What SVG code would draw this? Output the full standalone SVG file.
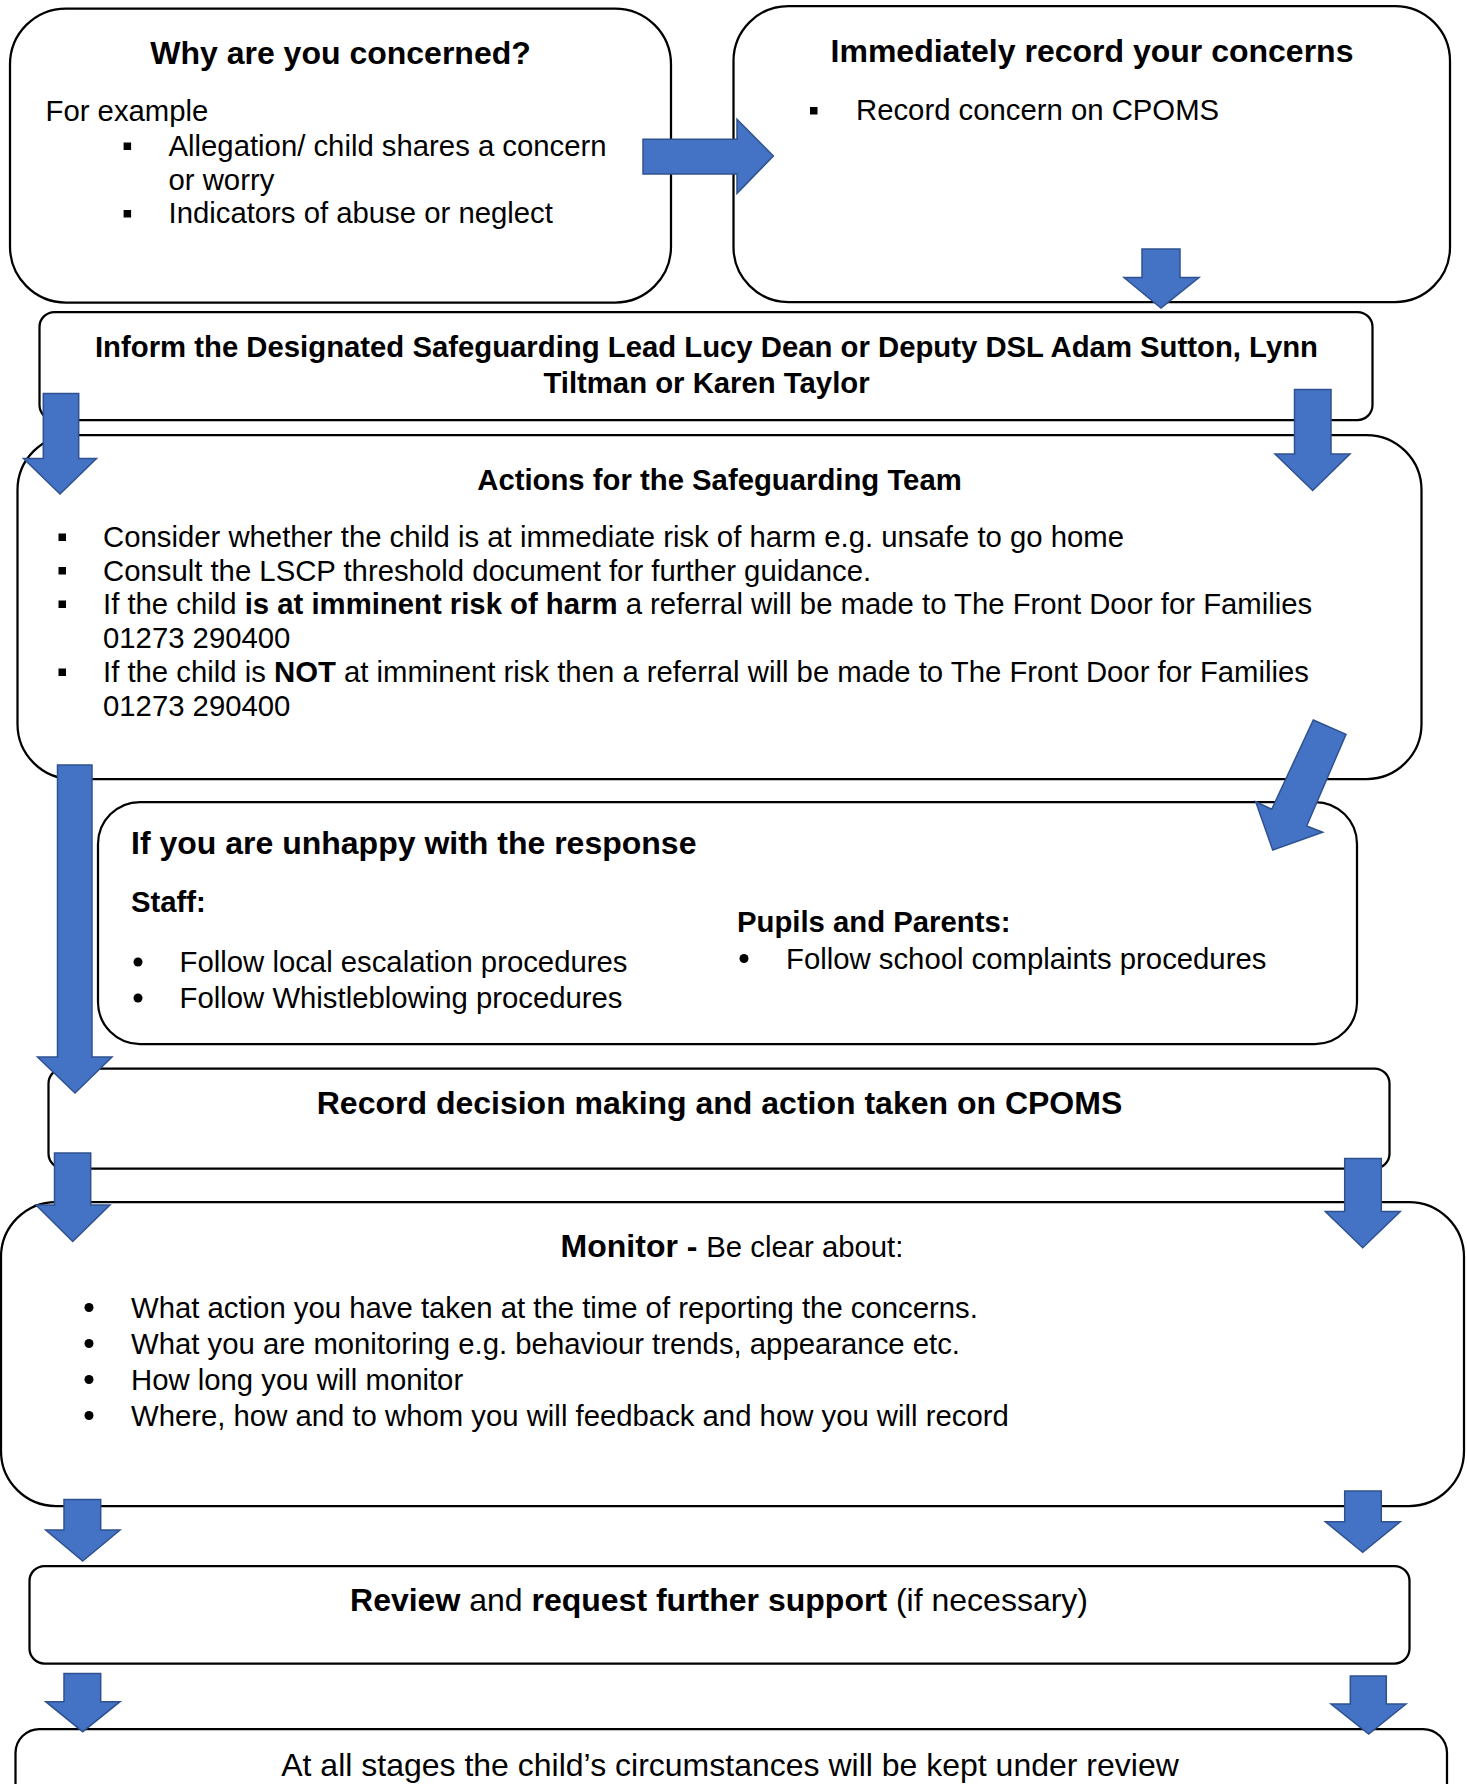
<svg xmlns="http://www.w3.org/2000/svg" width="1467" height="1784" viewBox="0 0 1467 1784">
<style>
  .box { fill: #ffffff; stroke: #000000; stroke-width: 2.25; }
  .arr { fill: #4472C4; stroke: #2F528F; stroke-width: 1.5; stroke-linejoin: miter; }
  text { font-family: "Liberation Sans", Arial, sans-serif; fill: #000000; }
  .t32b { font-size: 32px; font-weight: bold; }
  .t29b { font-size: 29.3px; font-weight: bold; }
  .t29 { font-size: 29.3px; }
  .t32 { font-size: 32px; }
  .b { font-weight: bold; }
  .mid { text-anchor: middle; }
  .sq { fill: #000000; }
  .dot { fill: #000000; }
</style>
<rect width="1467" height="1784" fill="#ffffff"/>

<g id="node-why">
  <rect class="box" x="10" y="8.5" width="661" height="294" rx="56" ry="56"/>
  <text class="t32b mid" x="340.5" y="63.5">Why are you concerned?</text>
  <text class="t29" x="45.5" y="121">For example</text>
  <rect class="sq" x="123.6" y="142.5" width="7.5" height="7.5"/>
  <text class="t29" x="168.5" y="155.5">Allegation/ child shares a concern</text>
  <text class="t29" x="168.5" y="189.5">or worry</text>
  <rect class="sq" x="123.6" y="210" width="7.5" height="7.5"/>
  <text class="t29" x="168.5" y="223">Indicators of abuse or neglect</text>
</g>

<g id="node-record">
  <rect class="box" x="733.5" y="6" width="716.5" height="296" rx="55" ry="55"/>
  <text class="t32b mid" x="1092" y="62">Immediately record your concerns</text>
  <rect class="sq" x="810" y="107" width="7.5" height="7.5"/>
  <text class="t29" x="856" y="120">Record concern on CPOMS</text>
</g>

<g id="node-inform">
  <rect class="box" x="39.5" y="312" width="1333" height="108" rx="15" ry="15"/>
  <text class="t29b mid" x="706.5" y="356.5">Inform the Designated Safeguarding Lead Lucy Dean or Deputy DSL Adam Sutton, Lynn</text>
  <text class="t29b mid" x="706.5" y="392.5">Tiltman or Karen Taylor</text>
</g>

<g id="node-actions">
  <rect class="box" x="17.5" y="435" width="1404" height="344" rx="55" ry="55"/>
  <text class="t29b mid" x="719.5" y="489.5">Actions for the Safeguarding Team</text>
  <rect class="sq" x="58.5" y="533.5" width="7.5" height="7.5"/>
  <text class="t29" x="103" y="547">Consider whether the child is at immediate risk of harm e.g. unsafe to go home</text>
  <rect class="sq" x="58.5" y="567" width="7.5" height="7.5"/>
  <text class="t29" x="103" y="580.5">Consult the LSCP threshold document for further guidance.</text>
  <rect class="sq" x="58.5" y="600.5" width="7.5" height="7.5"/>
  <text class="t29" x="103" y="614">If the child <tspan class="b">is at imminent risk of harm</tspan> a referral will be made to The Front Door for Families</text>
  <text class="t29" x="103" y="648">01273 290400</text>
  <rect class="sq" x="58.5" y="668.5" width="7.5" height="7.5"/>
  <text class="t29" x="103" y="682">If the child is <tspan class="b">NOT</tspan> at imminent risk then a referral will be made to The Front Door for Families</text>
  <text class="t29" x="103" y="716">01273 290400</text>
</g>

<g id="node-unhappy">
  <rect class="box" x="98" y="802" width="1259" height="242" rx="42" ry="42"/>
  <text class="t32b" x="131" y="854">If you are unhappy with the response</text>
  <text class="t29b" x="131" y="912">Staff:</text>
  <circle class="dot" cx="138" cy="962" r="4.5"/>
  <text class="t29" x="179.6" y="972">Follow local escalation procedures</text>
  <circle class="dot" cx="138" cy="998" r="4.5"/>
  <text class="t29" x="179.6" y="1008">Follow Whistleblowing procedures</text>
  <text class="t29b" x="737" y="932">Pupils and Parents:</text>
  <circle class="dot" cx="744" cy="958.5" r="4.5"/>
  <text class="t29" x="786" y="968.5">Follow school complaints procedures</text>
</g>

<g id="node-decision">
  <rect class="box" x="48.5" y="1068.5" width="1341" height="100" rx="15" ry="15"/>
  <text class="t32b mid" x="719.5" y="1114">Record decision making and action taken on CPOMS</text>
</g>

<g id="node-monitor">
  <rect class="box" x="1" y="1202" width="1463" height="304" rx="55" ry="55"/>
  <text class="mid" x="732" y="1257"><tspan class="t32b">Monitor - </tspan><tspan class="t29">Be clear about:</tspan></text>
  <circle class="dot" cx="89" cy="1307.5" r="4.5"/>
  <text class="t29" x="131" y="1317.5">What action you have taken at the time of reporting the concerns.</text>
  <circle class="dot" cx="89" cy="1343.5" r="4.5"/>
  <text class="t29" x="131" y="1353.5">What you are monitoring e.g. behaviour trends, appearance etc.</text>
  <circle class="dot" cx="89" cy="1379.5" r="4.5"/>
  <text class="t29" x="131" y="1389.5">How long you will monitor</text>
  <circle class="dot" cx="89" cy="1415.5" r="4.5"/>
  <text class="t29" x="131" y="1425.5">Where, how and to whom you will feedback and how you will record</text>
</g>

<g id="node-review">
  <rect class="box" x="29.5" y="1566" width="1380" height="97.5" rx="15" ry="15"/>
  <text class="t32 mid" x="719" y="1611"><tspan class="b">Review</tspan> and <tspan class="b">request further support</tspan> (if necessary)</text>
</g>

<g id="node-stages">
  <rect class="box" x="15.5" y="1729" width="1431.5" height="120" rx="24" ry="24"/>
  <text class="t32 mid" x="730" y="1776">At all stages the child’s circumstances will be kept under review</text>
</g>

<g id="connectors">
  <path class="arr" d="M643,139.3 H737 V119.3 L773.4,156 L737,193.3 V174 H643 Z"/>
  <path class="arr" d="M1142,249 H1180 V277.5 H1199 L1161,308 L1124,277.5 H1142 Z"/>
  <path class="arr" d="M43.3,393.5 H78.7 V458.5 H96.5 L60,494 L23.5,458.5 H43.3 Z"/>
  <path class="arr" d="M1294.5,389.5 H1331 V454 H1350 L1312.7,490.5 L1275,454 H1294.5 Z"/>
  <path class="arr" d="M1313.3,720 L1346,734.3 L1306.7,826 L1322.7,832.3 L1272.7,850 L1255.7,801.7 L1271.7,809.3 Z"/>
  <path class="arr" d="M57.5,765 H92 V1057 H112 L75,1093 L37.5,1057 H57.5 Z"/>
  <path class="arr" d="M54.5,1153 H90.7 V1205 H110 L72.7,1241.5 L36,1205 H54.5 Z"/>
  <path class="arr" d="M1344.7,1158.5 H1381.3 V1211.5 H1400.3 L1362.7,1247.7 L1325.3,1211.5 H1344.7 Z"/>
  <path class="arr" d="M64,1499.5 H100.7 V1530 H120 L82.7,1561 L45.7,1530 H64 Z"/>
  <path class="arr" d="M1344.7,1491 H1381.3 V1521.7 H1400.3 L1362.7,1552.3 L1325.3,1521.7 H1344.7 Z"/>
  <path class="arr" d="M64,1673.5 H100.7 V1701.7 H120 L82.7,1731.7 L45.7,1701.7 H64 Z"/>
  <path class="arr" d="M1350.3,1676 H1386.3 V1704 H1406 L1368.7,1734 L1331,1704 H1350.3 Z"/>
</g>
</svg>
